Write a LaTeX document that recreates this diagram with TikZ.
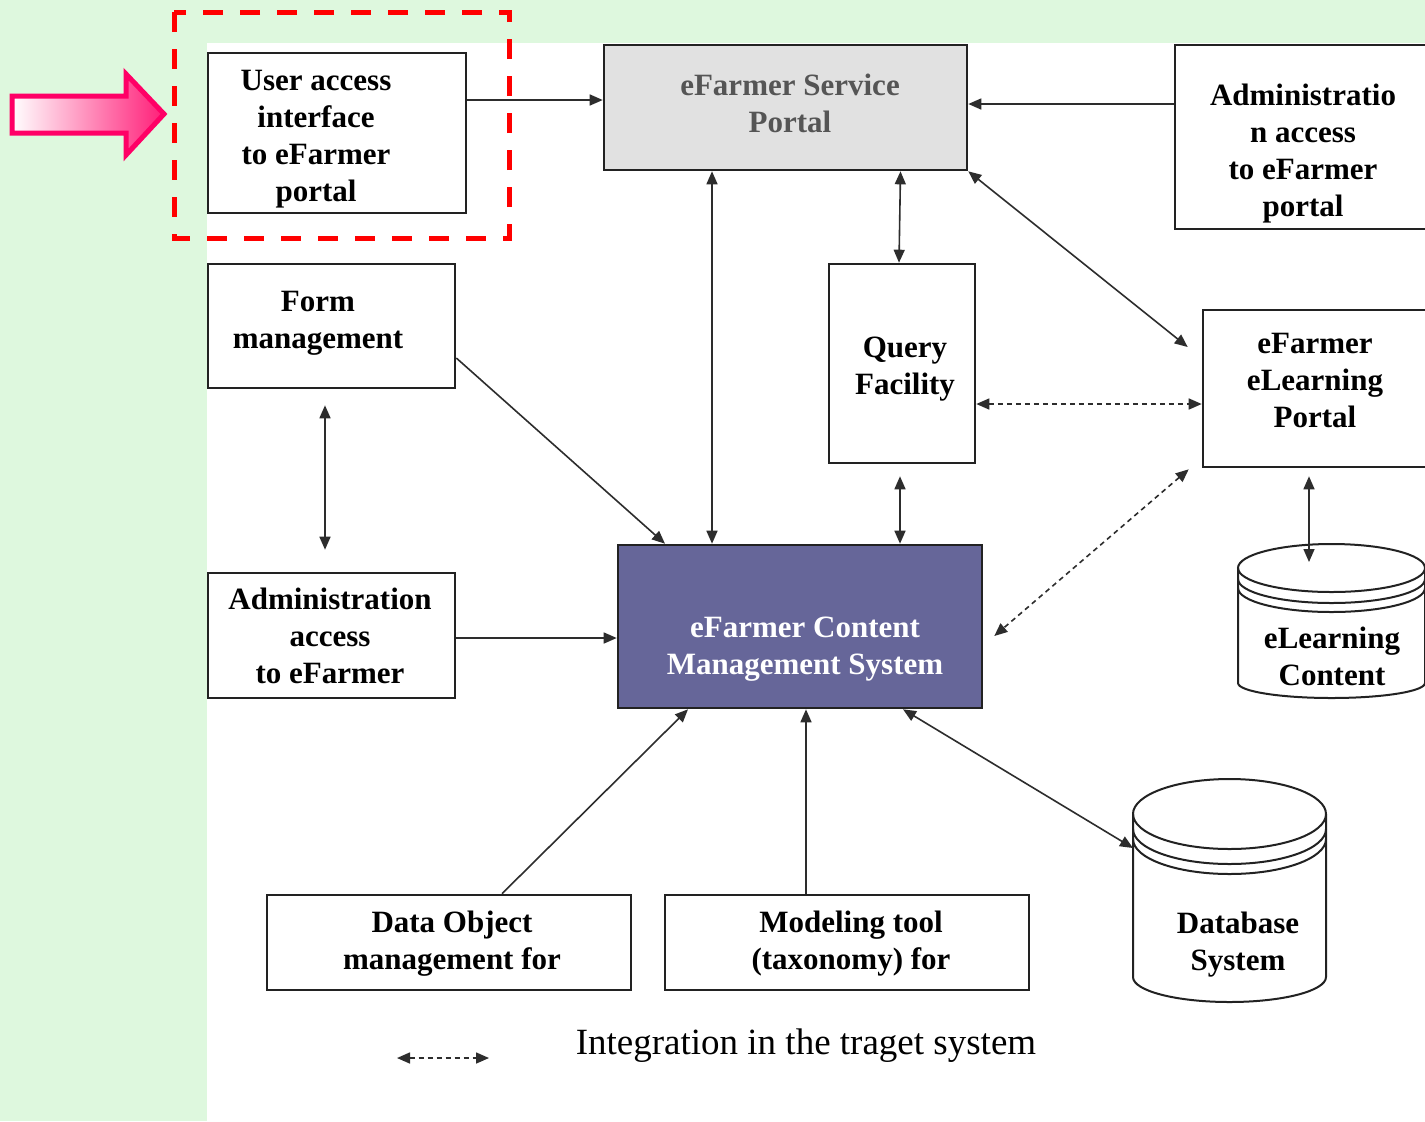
\documentclass[tikz,border=0pt]{standalone}
\usepackage{fontspec}
\setmainfont{Liberation Serif}
\usetikzlibrary{arrows.meta,calc}
\definecolor{bggreen}{RGB}{222,248,222}
\definecolor{boxline}{RGB}{34,34,34}
\definecolor{lineclr}{RGB}{45,45,45}
\definecolor{portalgray}{RGB}{225,225,225}
\definecolor{portaltext}{RGB}{85,85,85}
\definecolor{cmsfill}{RGB}{102,102,153}
\definecolor{pinkedge}{RGB}{255,0,102}
\definecolor{pinkfill}{RGB}{255,30,120}
\begin{document}
\begin{tikzpicture}[x=0.5pt,y=-0.5pt,
  box/.style={draw=boxline, line width=1.3pt, fill=white, inner sep=0pt},
  txt/.style={font=\fontsize{15.5pt}{18.5pt}\selectfont\bfseries, align=center, inner sep=0pt, yshift=-2pt},
  conn/.style={draw=lineclr, line width=0.8pt, -{Triangle[length=6.5pt,width=5.5pt]}},
  bi/.style={draw=lineclr, line width=0.8pt, {Triangle[length=6.5pt,width=5.5pt]}-{Triangle[length=6.5pt,width=5.5pt]}},
  dbi/.style={bi, dash pattern=on 2.5pt off 2pt},
  cyl/.style={draw=boxline, line width=1pt}]
\useasboundingbox (0,0) rectangle (1425,1121);
\clip (0,0) rectangle (1425,1121);

% page background
\fill[bggreen] (0,0) rectangle (1425,1121);
\fill[white] (207,43) rectangle (1425,1121);

% boxes
\node[box, minimum width=129pt, minimum height=80pt] (ua) at (337,133) {};
\node[box, fill=portalgray, minimum width=181.5pt, minimum height=62.5pt] (sp) at (785.5,107.5) {};
\node[box, minimum width=132.5pt, minimum height=92pt] (at) at (1307.5,137) {};
\node[box, minimum width=123.5pt, minimum height=62pt] (fm) at (331.5,326) {};
\node[box, minimum width=73pt, minimum height=99.5pt] (qf) at (902,363.5) {};
\node[box, minimum width=118.5pt, minimum height=78.5pt] (ep) at (1321.5,388.5) {};
\node[box, minimum width=123.5pt, minimum height=62.5pt] (aa) at (331.5,635.5) {};
\node[box, fill=cmsfill, minimum width=182pt, minimum height=81.5pt] (cms) at (800,626.5) {};
\node[box, minimum width=182pt, minimum height=47.5pt] (dob) at (449,942.5) {};
\node[box, minimum width=182pt, minimum height=47.5pt] (mt) at (847,942.5) {};

% database cylinder
\fill[white] (1133,814) -- (1133,977) arc[start angle=180,end angle=360,x radius=48.25pt,y radius=12.5pt] -- (1326,814) arc[start angle=0,end angle=180,x radius=48.25pt,y radius=17.5pt] -- cycle;
\draw[cyl] (1133,814) -- (1133,977) arc[start angle=180,end angle=360,x radius=48.25pt,y radius=12.5pt] -- (1326,814);
\draw[cyl] (1229.5,814) ellipse[x radius=48.25pt,y radius=17.5pt];
\draw[cyl] (1133,829) arc[start angle=180,end angle=360,x radius=48.25pt,y radius=17.5pt];
\draw[cyl] (1133,839) arc[start angle=180,end angle=360,x radius=48.25pt,y radius=17.5pt];
\coordinate (db) at (1133,848);

% eLearning content cylinder
\draw[cyl] (1238,568) -- (1238,683) arc[start angle=180,end angle=360,x radius=46.75pt,y radius=7.5pt] -- (1425,568);
\draw[cyl] (1331.5,568) ellipse[x radius=46.75pt,y radius=12pt];
\draw[cyl] (1238,579) arc[start angle=180,end angle=360,x radius=46.75pt,y radius=12pt];
\draw[cyl] (1238,588) arc[start angle=180,end angle=360,x radius=46.75pt,y radius=12pt];
\coordinate (ec) at (1309,562);

% labels
\node[txt] (ua-t) at (316,135.5) {User access\\interface\\to eFarmer\\portal};
\node[txt, text=portaltext] (sp-t) at (790,99.5) {eFarmer Service\\Portal};
\node[txt] (at-t) at (1303,149.5) {Administratio\\n access\\to eFarmer\\portal};
\node[txt] (fm-t) at (318,319) {Form\\management};
\node[txt] (qf-t) at (905,365.5) {Query\\Facility};
\node[txt] (ep-t) at (1315,376) {eFarmer\\eLearning\\Portal};
\node[txt] (aa-t) at (330,631.5) {Administration\\access\\to eFarmer};
\node[txt, text=white] (cms-t) at (805,645.5) {eFarmer Content\\Management System};
\node[txt] (dob-t) at (452,940) {Data Object\\management for};
\node[txt] (mt-t) at (851,940) {Modeling tool\\(taxonomy) for};
\node[txt] (db-t) at (1238,941) {Database\\System};
\node[txt] (ec-t) at (1332,652.5) {eLearning\\Content};

% connectors
\draw[conn] ($(ua.east)+(0,-33)$) coordinate (a1) -- (a1 -| sp.west);
\draw[conn] ($(at.west)+(0,-33)$) coordinate (a2) -- (a2 -| sp.east);
\draw[bi] ($(sp.south)+(-73.5,0)$) coordinate (a3) -- (a3 |- cms.north);
\draw[bi] ($(sp.south)+(115,0)$) -- ($(qf.north)+(-3,0)$);
\draw[bi] (sp.south east) -- ($(ep.west)+(-14,-41.5)$);
\draw[dbi] ($(qf.east)+(0,40.5)$) coordinate (a6) -- (a6 -| ep.west);
\draw[conn] ($(fm.east)+(0,32)$) -- ($(cms.north)+(-135,0)$);
\draw[bi] ($(fm.south)+(-6.5,16)$) -- ($(aa.north)+(-6.5,-22)$);
\draw[bi] ($(qf.south)+(-2,12)$) coordinate (a9) -- (a9 |- cms.north);
\draw[dbi] ($(ep.south west)+(-13,1)$) -- ($(cms.east)+(11,9.5)$);
\draw[bi] ($(ep.south)+(-12.5,8)$) -- (ec);
\draw[conn] ($(aa.east)+(0,2.5)$) coordinate (a12) -- (a12 -| cms.west);
\draw[conn] ($(dob.north)+(53,0)$) -- ($(cms.south)+(-112,0)$);
\draw[conn] ($(mt.north)+(-41,0)$) coordinate (a14) -- (a14 |- cms.south);
\draw[bi] ($(cms.south)+(103,0)$) -- (db);

% legend
\coordinate (lg1) at (397,1058);
\coordinate (lg2) at (489,1058);
\draw[dbi] (lg1) -- (lg2);
\node[font=\fontsize{18.5pt}{22pt}\selectfont, inner sep=0pt, yshift=-2pt] (lg-t) at (806,1042) {Integration in the traget system};

% highlight frame and pointer
\draw[red, line width=2.5pt, dash pattern=on 10pt off 8.5pt] (174,12) rectangle (509,238);
\path[draw=pinkedge, line width=2.5pt, line join=miter, left color=white, right color=pinkfill]
  (12,96) -- (126,96) -- (126,74) -- (164,114) -- (126,155) -- (126,133) -- (12,133) -- cycle;
\end{tikzpicture}
\end{document}
